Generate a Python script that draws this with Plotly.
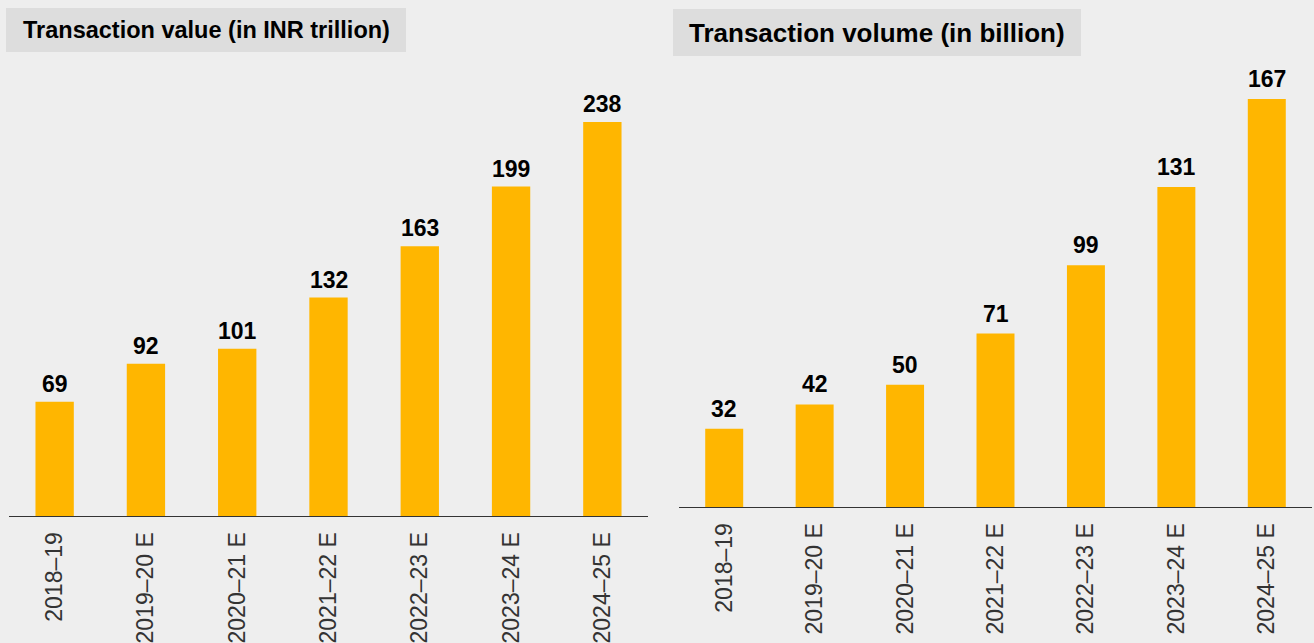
import plotly.graph_objects as go

# Fiscal years shared by both panels
years = ["2018–19", "2019–20 E", "2020–21 E", "2021–22 E",
         "2022–23 E", "2023–24 E", "2024–25 E"]

# Transaction value, INR trillion
txn_value = [69, 92, 101, 132, 163, 199, 238]

# Transaction volume, billion
txn_volume = [32, 42, 50, 71, 99, 131, 167]

W, H = 1314, 643
BG = "#eeeeee"
BOX = "#dddddd"
BAR = "#ffb600"
FONT = "Liberation Sans, Arial, Helvetica, sans-serif"


def px_x(p):
    return p / W


def px_y(p):
    return 1 - p / H


fig = go.Figure()

fig.add_trace(go.Bar(x=years, y=txn_value, marker_color=BAR,
                     marker_line_width=0, xaxis="x", yaxis="y",
                     hoverinfo="x+y"))
fig.add_trace(go.Bar(x=years, y=txn_volume, marker_color=BAR,
                     marker_line_width=0, xaxis="x2", yaxis="y2",
                     hoverinfo="x+y"))

annotations = []
for xa, ya, vals, shift in (("x", "y", txn_value, 3),
                            ("x2", "y2", txn_volume, 5)):
    for cat, v in zip(years, vals):
        annotations.append(dict(
            x=cat, y=v, xref=xa, yref=ya, text=str(v), showarrow=False,
            yanchor="bottom", yshift=shift,
            font=dict(family=FONT, size=23, color="#000000", weight="bold"),
        ))

# Panel titles: text, box left/right/top/bottom in pixels, font size
titles = [
    ("Transaction value (in INR trillion)", 6, 406, 8, 52, 23.5),
    ("Transaction volume (in billion)", 673, 1081, 9, 56, 26),
]
shapes = []
for text, x0, x1, y0, y1, fs in titles:
    shapes.append(dict(type="rect", xref="paper", yref="paper",
                       x0=px_x(x0), x1=px_x(x1), y0=px_y(y1), y1=px_y(y0),
                       fillcolor=BOX, line_width=0, layer="below"))
    annotations.append(dict(
        x=px_x((x0 + x1) / 2), y=px_y((y0 + y1) / 2), xref="paper",
        yref="paper", text=text, showarrow=False, xanchor="center",
        yanchor="middle",
        font=dict(family=FONT, size=fs, color="#000000", weight="bold"),
    ))

xaxis_common = dict(
    type="category", showline=True, linecolor="#333333", linewidth=1,
    showgrid=False, zeroline=False, ticks="", tickangle=-90,
    tickfont=dict(family=FONT, size=23, color="#333333"),
    ticklabelstandoff=6, fixedrange=True,
)
yaxis_common = dict(visible=False, showgrid=False, zeroline=False,
                    fixedrange=True)

fig.update_layout(
    width=W, height=H,
    margin=dict(l=0, r=0, t=0, b=0),
    paper_bgcolor=BG, plot_bgcolor=BG,
    showlegend=False, bargap=0.58,
    xaxis=dict(domain=[px_x(9), px_x(648)], anchor="y", **xaxis_common),
    yaxis=dict(domain=[px_y(516), px_y(80)], range=[0, 263.4],
               anchor="x", **yaxis_common),
    xaxis2=dict(domain=[px_x(679), px_x(1312)], anchor="y2", **xaxis_common),
    yaxis2=dict(domain=[px_y(507), px_y(80)], range=[0, 174.8],
                anchor="x2", **yaxis_common),
    annotations=annotations,
    shapes=shapes,
)

fig.write_html("out.html")
